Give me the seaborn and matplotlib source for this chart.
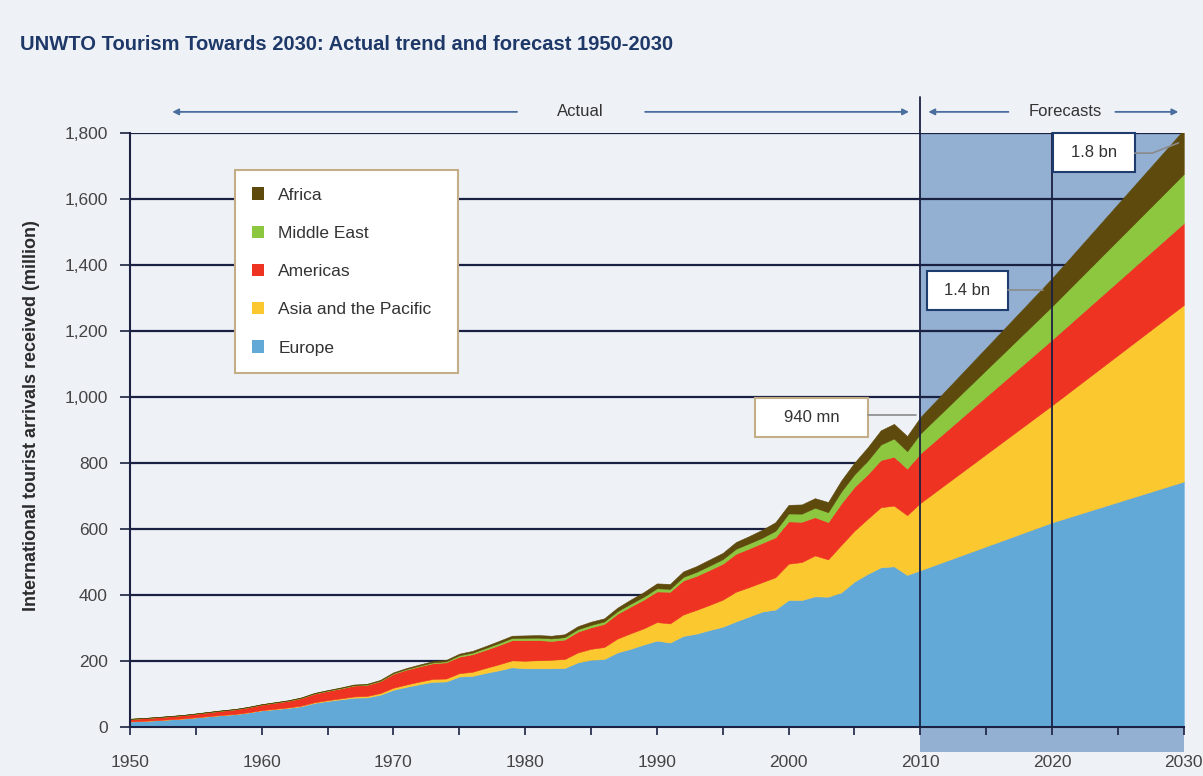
import pandas as pd
import seaborn as sns
import matplotlib.pyplot as plt
from matplotlib.patches import Patch, Rectangle

# Dados (milhoes de chegadas)
years = list(range(1950, 2011)) + [2020, 2030]

europe = [16.8, 18.5, 20.5, 23, 25.5, 29, 32.5, 36, 39, 44,
          50.4, 54, 58, 63, 73, 79, 84, 89, 90, 98,
          113, 122, 130, 137, 138, 153, 155, 164, 172, 181,
          178, 178, 178, 179, 196, 204, 206, 226, 237, 250,
          262, 256, 276, 283, 294, 304, 320, 335, 350, 356,
          385, 385, 396, 395, 408, 441, 464, 484, 487, 461,
          475, 620, 744]
asia = [0.2, 0.3, 0.3, 0.4, 0.5, 0.5, 0.6, 0.7, 0.7, 0.8,
        0.9, 1.2, 1.4, 1.8, 2.1, 2.5, 3.0, 3.6, 4.2, 5.0,
        6.2, 7.0, 8.0, 8.8, 9.0, 10.2, 12.5, 15, 18, 21,
        23, 24.5, 26, 27, 30, 33, 36.5, 42, 47, 49,
        56, 58, 65, 72, 76, 82, 90, 89, 89, 98,
        110, 115, 124, 113, 144, 154, 167, 182, 184, 181,
        204, 355, 535]
americas = [7.5, 8, 8.6, 9.2, 9.8, 10.8, 12, 13, 14, 15.3,
            16.7, 18.5, 20, 23, 26, 28, 30, 33, 33.5, 36,
            42.3, 45, 46, 47.5, 49, 50, 53, 55, 58, 61,
            62.3, 61, 57, 59, 63, 65, 70, 75, 81, 87,
            92.8, 96, 103, 103, 106, 109, 115, 117, 119, 121,
            128, 122, 116, 113, 126, 133, 135, 143, 148, 141,
            150, 199, 248]
middle_east = [0.2, 0.2, 0.3, 0.3, 0.3, 0.4, 0.4, 0.5, 0.5, 0.5,
               0.6, 0.7, 0.8, 0.9, 1.0, 1.1, 1.3, 1.4, 1.4, 1.6,
               1.9, 2.2, 2.5, 2.8, 3.3, 4.4, 5.0, 5.6, 6.3, 6.8,
               7.1, 7.3, 7.5, 7.4, 7.4, 7.5, 7.4, 8.0, 8.5, 9.0,
               9.6, 8.6, 11, 12, 13, 13.7, 15, 15.5, 15.6, 19.8,
               24.1, 24.5, 28.5, 30, 36, 37.9, 41, 47, 55.2, 52.8,
               60.3, 101, 149]
africa = [0.5, 0.5, 0.5, 0.6, 0.6, 0.6, 0.7, 0.7, 0.7, 0.8,
          0.8, 0.9, 1.0, 1.1, 1.3, 1.4, 1.6, 1.8, 2.0, 2.2,
          2.4, 2.8, 3.2, 3.6, 4.1, 4.7, 5.2, 5.8, 6.4, 6.9,
          7.2, 7.8, 8.2, 8.7, 9.2, 9.7, 9.4, 10.5, 12.5, 13.8,
          14.8, 15, 16.5, 17.5, 18.5, 18.9, 20.5, 21.9, 24.3, 25.8,
          26.2, 28, 29, 30.7, 33.3, 35.4, 40.5, 43.1, 44.4, 45.9,
          49.4, 85, 134]

regions = ['Europe', 'Asia and the Pacific', 'Americas', 'Middle East', 'Africa']
colors = ['#63A9D7', '#FCC830', '#EF3322', '#8DC63F', '#5E4A0C']
y_ticks = [0, 200, 400, 600, 800, 1000, 1200, 1400, 1600, 1800]
x_labels = [1950, 1960, 1970, 1980, 1990, 2000, 2010, 2020, 2030]
x_minor = [1955, 1965, 1975, 1985, 1995, 2005, 2015, 2025]

df = pd.DataFrame({'Year': years, 'Europe': europe, 'Asia and the Pacific': asia,
                   'Americas': americas, 'Middle East': middle_east, 'Africa': africa})

sns.set_theme(style='white')
plt.rcParams['font.family'] = ['Liberation Sans', 'DejaVu Sans']

bg = '#EEF1F6'
navy = '#1B2142'
fig = plt.figure(figsize=(12.03, 7.76), dpi=100, facecolor=bg)
ax = fig.add_axes([0.108, 0.0631, 0.876, 0.7655])
ax.set_facecolor(bg)

# Area de previsao (sombreada)
ax.add_patch(Rectangle((2010, -76), 20, 1876, facecolor='#93AFD1', edgecolor='none',
                       zorder=0.3, clip_on=False))

# Linhas de grade
for v in y_ticks[1:]:
    ax.axhline(v, color=navy, lw=1.6, zorder=0.6)

# Areas empilhadas
ax.stackplot(df['Year'], df[regions].T.values, colors=colors, labels=regions,
             edgecolor='face', linewidth=0.4, zorder=1)

# Linhas verticais 2010 e 2020
ax.plot([2010, 2010], [0, 1909], color=navy, lw=1.3, zorder=3, clip_on=False)
ax.plot([2020, 2020], [0, 1800], color=navy, lw=1.3, zorder=3, clip_on=False)

ax.set_xlim(1950, 2030)
ax.set_ylim(0, 1800)
ax.set_yticks(y_ticks)
ax.set_yticklabels([f'{v:,}' for v in y_ticks])
ax.set_xticks(x_labels)
ax.set_xticklabels([str(v) for v in x_labels])
ax.set_xticks(x_minor, minor=True)
ax.tick_params(axis='both', which='both', direction='out', color=navy, width=1.2,
               labelsize=12.5, labelcolor='#444444')
ax.tick_params(axis='x', which='major', length=6, pad=14)
ax.tick_params(axis='x', which='minor', length=6)
ax.tick_params(axis='y', length=7, pad=9)
ax.xaxis.set_ticks_position('bottom')
ax.yaxis.set_ticks_position('left')

sns.despine(ax=ax, top=True, right=True)
for s in ['left', 'bottom']:
    ax.spines[s].set_color(navy)
    ax.spines[s].set_linewidth(1.5)
    ax.spines[s].set_zorder(3)

ax.set_ylabel('International tourist arrivals received (million)', fontsize=13,
              fontweight='bold', color='#2B2B2B')
ax.yaxis.set_label_coords(-0.085, 0.525)

fig.text(20 / 1203, 1 - 45 / 776, 'UNWTO Tourism Towards 2030: Actual trend and forecast 1950-2030',
         fontsize=14.5, fontweight='bold', color='#1E3868', va='center', ha='left')

# Legenda
handles = [Patch(facecolor=c, edgecolor='none') for c in colors[::-1]]
leg = ax.legend(handles, regions[::-1], loc='upper left', mode='expand',
                bbox_to_anchor=(0.0996, 0.0, 0.2116, 0.9377), borderaxespad=0,
                frameon=True, fancybox=False, edgecolor='#C4AE88', facecolor='white',
                framealpha=1, fontsize=12.5, labelspacing=1.33, handlelength=0.7,
                handleheight=0.7, handletextpad=0.8, borderpad=1.0)
leg.get_frame().set_linewidth(1.5)
leg.set_zorder(5)
for t in leg.get_texts():
    t.set_color('#333333')

# Caixas de anotacao
boxes = [((1997.44, 879), 8.58, 118, '#C4AE88', '940 mn'),
         ((2010.49, 1264), 6.15, 118, '#1F3C6E', '1.4 bn'),
         ((2020.06, 1682), 6.22, 118, '#1F3C6E', '1.8 bn')]
for (x0, y0), w, h, ec, txt in boxes:
    ax.add_patch(Rectangle((x0, y0), w, h, facecolor='white', edgecolor=ec, lw=1.5,
                           zorder=6, clip_on=False))
    ax.text(x0 + w / 2, y0 + h / 2, txt, ha='center', va='center', fontsize=12,
            color='#333333', zorder=7)

ax.plot([2006.0, 2009.7], [945, 945], color='#8A8A8A', lw=1.2, zorder=6)
ax.plot([2016.64, 2019.3], [1324, 1324], color='#8A8A8A', lw=1.2, zorder=6)
ax.plot([2026.28, 2027.6, 2029.6], [1739, 1739, 1770], color='#8A8A8A', lw=1.2, zorder=6)

# Setas "Actual" e "Forecasts"
arrow = dict(arrowstyle='-|>', color='#4A6E9E', lw=1.3, mutation_scale=9)
ya = 1864
for start, end in [(1979.6, 1953.0), (1988.9, 2009.35), (2016.9, 2010.4), (2024.6, 2029.8)]:
    ax.annotate('', xy=(end, ya), xytext=(start, ya), arrowprops=arrow, annotation_clip=False)
ax.text(1984.2, ya, 'Actual', ha='center', va='center', fontsize=12, color='#333333')
ax.text(2021.0, ya, 'Forecasts', ha='center', va='center', fontsize=12, color='#333333')

plt.savefig('out.png', dpi=100, facecolor=bg)
